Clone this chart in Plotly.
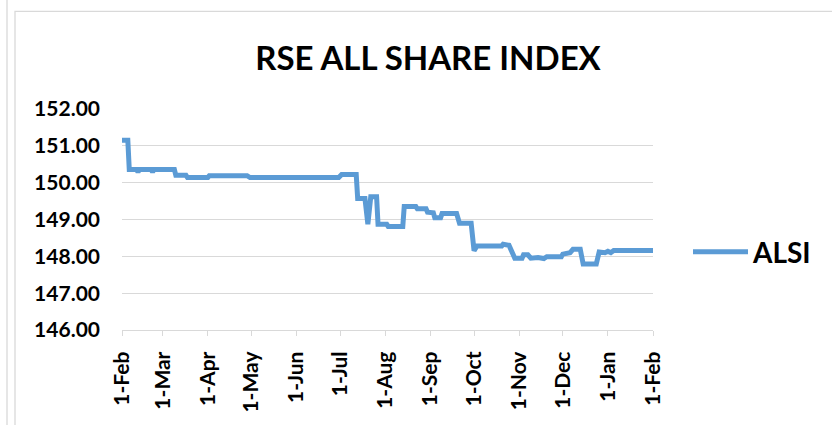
import plotly.graph_objects as go

# ---- data ----
dates = [
    "2018-02-01", "2018-02-05", "2018-02-06", "2018-02-11", "2018-02-12", "2018-02-13",
    "2018-02-21", "2018-02-22", "2018-02-23", "2018-03-09", "2018-03-10", "2018-03-17",
    "2018-03-18", "2018-04-01", "2018-04-02", "2018-04-28", "2018-04-30", "2018-06-30",
    "2018-07-02", "2018-07-12", "2018-07-13", "2018-07-18", "2018-07-20", "2018-07-22",
    "2018-07-26", "2018-07-27", "2018-08-02", "2018-08-03", "2018-08-13", "2018-08-14",
    "2018-08-22", "2018-08-23", "2018-08-29", "2018-08-30", "2018-09-03", "2018-09-04",
    "2018-09-08", "2018-09-09", "2018-09-19", "2018-09-21", "2018-09-29", "2018-10-01",
    "2018-10-03", "2018-10-20", "2018-10-21", "2018-10-25", "2018-10-29", "2018-11-03",
    "2018-11-04", "2018-11-07", "2018-11-09", "2018-11-14", "2018-11-18", "2018-11-20",
    "2018-11-30", "2018-12-01", "2018-12-06", "2018-12-08", "2018-12-13", "2018-12-15",
    "2018-12-24", "2018-12-26", "2018-12-30", "2019-01-01", "2019-01-03", "2019-01-05",
    "2019-02-01",
]
alsi = [
    151.15, 151.15, 150.36, 150.36, 150.29, 150.36,
    150.36, 150.29, 150.36, 150.36, 150.20, 150.20,
    150.14, 150.14, 150.19, 150.19, 150.14, 150.14,
    150.22, 150.22, 149.57, 149.57, 148.87, 149.62,
    149.62, 148.87, 148.87, 148.81, 148.81, 149.35,
    149.35, 149.29, 149.29, 149.20, 149.18, 149.05,
    149.05, 149.16, 149.16, 148.90, 148.90, 148.15,
    148.28, 148.28, 148.33, 148.30, 147.95, 147.95,
    148.04, 148.04, 147.95, 147.97, 147.94, 147.99,
    147.99, 148.06, 148.10, 148.19, 148.19, 147.79,
    147.79, 148.12, 148.10, 148.14, 148.10, 148.16,
    148.16,
]
series_name = "ALSI"
title_text = "RSE ALL SHARE INDEX"

tick_dates = ["2018-02-01", "2018-03-01", "2018-04-01", "2018-05-01", "2018-06-01",
              "2018-07-01", "2018-08-01", "2018-09-01", "2018-10-01", "2018-11-01",
              "2018-12-01", "2019-01-01", "2019-02-01"]
tick_labels = ["1-Feb", "1-Mar", "1-Apr", "1-May", "1-Jun", "1-Jul", "1-Aug",
               "1-Sep", "1-Oct", "1-Nov", "1-Dec", "1-Jan", "1-Feb"]
y_ticks = [146, 147, 148, 149, 150, 151, 152]

# ---- layout geometry ----
W, H = 832, 425
L, R, T, B = 122, 179, 109, 92
PW, PH = W - L - R, H - T - B

def px_x(x):
    return (x - L) / PW

def px_y(y):
    return (H - B - y) / PH

FONT = "Lato"
GRID = "#D9D9D9"
BLUE = "#5B9BD5"

fig = go.Figure()
fig.add_trace(go.Scatter(
    x=dates, y=alsi, mode="lines", name=series_name,
    line=dict(color=BLUE, width=5),
    showlegend=True,
))

fig.update_layout(
    width=W, height=H,
    margin=dict(l=L, r=R, t=T, b=B, pad=0),
    paper_bgcolor="white", plot_bgcolor="white",
    font=dict(family=FONT, color="black", size=21, weight="bold"),
    title=dict(
        text=title_text,
        font=dict(family=FONT, size=33, color="black", weight="bold"),
        x=px_x(428), xref="paper", xanchor="center",
        y=1 - 58 / H, yref="container", yanchor="middle",
    ),
    showlegend=True,
    legend=dict(
        x=px_x(688), y=px_y(254), xanchor="left", yanchor="middle",
        font=dict(family=FONT, size=28, color="black", weight="bold"),
        itemwidth=55, bgcolor="rgba(0,0,0,0)",
    ),
    xaxis=dict(
        type="date",
        range=["2018-02-01", "2019-02-01"],
        tickvals=tick_dates, ticktext=tick_labels,
        tickangle=-90,
        showgrid=False, zeroline=False,
        showline=True, linecolor=GRID, linewidth=1.3,
        ticks="outside", ticklen=5, tickcolor=GRID, tickwidth=1.3,
        ticklabelstandoff=7,
        tickfont=dict(family=FONT, size=21, color="black", weight="bold"),
    ),
    yaxis=dict(
        range=[146, 152],
        tickvals=y_ticks, tickformat=".2f",
        showgrid=True, gridcolor=GRID, gridwidth=1.3,
        zeroline=False, showline=False,
        ticks="", ticklabelstandoff=21,
        tickfont=dict(family=FONT, size=21, color="black", weight="bold"),
    ),
    shapes=[
        dict(type="rect", xref="paper", yref="paper",
             x0=px_x(15), x1=px_x(845), y0=px_y(440), y1=px_y(10),
             line=dict(color=GRID, width=1.3), fillcolor="rgba(0,0,0,0)", layer="below"),
        dict(type="line", xref="paper", yref="paper",
             x0=px_x(7), x1=px_x(7), y0=px_y(440), y1=px_y(-5),
             line=dict(color=GRID, width=1.3), layer="below"),
    ],
)

fig.write_html("out.html")
